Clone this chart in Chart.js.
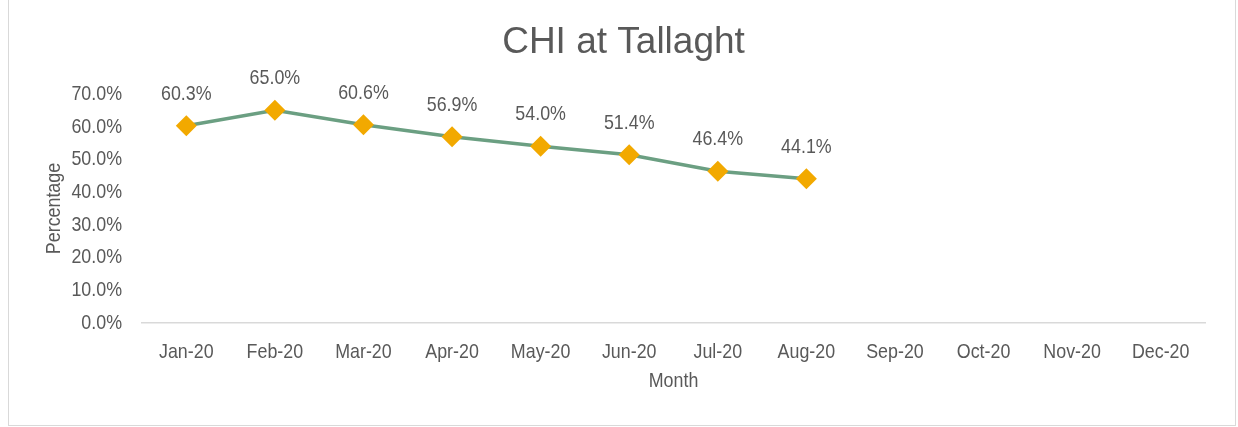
<!DOCTYPE html>
<html><head><meta charset="utf-8">
<script src="https://cdn.jsdelivr.net/npm/chart.js@4.4.0/dist/chart.umd.min.js"></script>
<style>
html,body{margin:0;padding:0;background:#fff;}
#wrap{position:absolute;left:0;top:0;width:1238px;height:427px;overflow:hidden}
#frame{position:absolute;left:8px;top:-1px;width:1228px;height:427px;border:1px solid #d9d9d9;box-sizing:border-box;pointer-events:none}
canvas{position:absolute;left:0;top:0}
</style></head>
<body><div id="wrap"><canvas id="c" width="1238" height="427"></canvas><div id="frame"></div></div>
<script>
const categories = ['Jan-20','Feb-20','Mar-20','Apr-20','May-20','Jun-20','Jul-20','Aug-20','Sep-20','Oct-20','Nov-20','Dec-20'];
const chiValues = [60.3, 65.0, 60.6, 56.9, 54.0, 51.4, 46.4, 44.1, null, null, null, null];
const yTickValues = [0, 10, 20, 30, 40, 50, 60, 70];

const TEXT = '#595959';
const FAM = "'Liberation Sans', Arial, sans-serif";

// Axis/label text in the reference uses a narrow face; emulate by condensing glyphs horizontally.
const canvasEl = document.getElementById('c');
const ctx0 = canvasEl.getContext('2d');
const origFillText = ctx0.fillText;
ctx0.fillText = function (t, x, y, mw) {
  if (this.font.indexOf('37px') !== -1) return origFillText.call(this, t, x, y, mw);
  this.save();
  this.translate(x, y);
  this.scale(0.85, 1);
  origFillText.call(this, t, 0, 0, mw);
  this.restore();
};

const dataLabels = {
  id: 'dataLabels',
  afterDatasetsDraw(chart) {
    const ctx = chart.ctx;
    const meta = chart.getDatasetMeta(0);
    ctx.save();
    ctx.font = '21px ' + FAM;
    ctx.fillStyle = TEXT;
    ctx.textAlign = 'center';
    ctx.textBaseline = 'middle';
    meta.data.forEach((pt, i) => {
      const v = chiValues[i];
      if (v === null || v === undefined) return;
      ctx.fillText(v.toFixed(1) + '%', pt.x, pt.y - 32);
    });
    ctx.restore();
  }
};

new Chart(canvasEl, {
  type: 'line',
  data: {
    labels: categories,
    datasets: [{
      label: 'CHI at Tallaght',
      data: chiValues,
      borderColor: '#6B9F82',
      borderWidth: 3.5,
      pointStyle: 'rectRot',
      pointRadius: 10.5,
      pointHoverRadius: 10.5,
      pointBackgroundColor: '#F2A900',
      pointBorderColor: '#F2A900',
      pointBorderWidth: 0,
      tension: 0,
      clip: false,
      spanGaps: false
    }]
  },
  options: {
    responsive: false,
    animation: false,
    events: [],
    layout: { padding: { left: 42, right: 33, top: 0, bottom: 33 } },
    plugins: {
      legend: { display: false },
      tooltip: { enabled: false },
      title: {
        display: true,
        text: 'CHI at Tallaght',
        color: TEXT,
        font: { family: FAM, size: 37, weight: 'normal' },
        padding: { top: 21, bottom: 28.6 }
      }
    },
    scales: {
      x: {
        offset: true,
        grid: { display: false, drawTicks: false },
        border: { display: true, color: '#d9d9d9', width: 1.5 },
        ticks: { color: TEXT, font: { family: FAM, size: 21 }, padding: 17, maxRotation: 0, autoSkip: false },
        title: { display: true, text: 'Month', color: TEXT, font: { family: FAM, size: 21 }, padding: { top: 0, bottom: 0 } },
        afterFit(s) { s.height = 71; }
      },
      y: {
        min: 0, max: 70,
        afterBuildTicks(s) { s.ticks = yTickValues.map(v => ({ value: v })); },
        grid: { display: false, drawTicks: false },
        border: { display: false },
        ticks: { color: TEXT, font: { family: FAM, size: 21 }, padding: 20, callback: v => v.toFixed(1) + '%' },
        title: { display: true, text: 'Percentage', color: TEXT, font: { family: FAM, size: 21 }, padding: { top: 0, bottom: 0 } },
        afterFit(s) { s.width = 100; }
      }
    }
  },
  plugins: [dataLabels]
});
</script>
</body></html>
